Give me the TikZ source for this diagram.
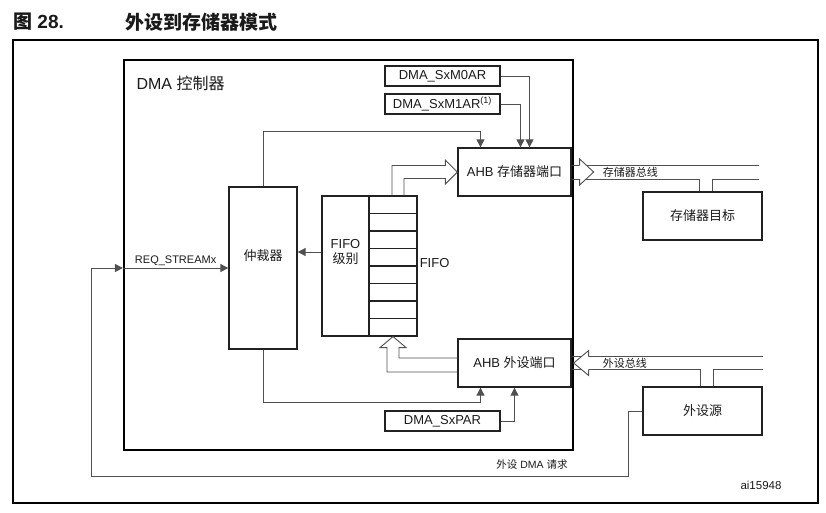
\documentclass[tikz,border=0pt]{standalone}
\usepackage{fontspec}
\setmainfont{Liberation Sans}
\newfontfamily\cjk{Noto Sans CJK SC}
\usetikzlibrary{arrows.meta,calc}

\definecolor{boxcol}{HTML}{222222}
\definecolor{linecol}{HTML}{505050}
\definecolor{txtcol}{HTML}{1A1A1A}

\tikzset{
	box/.style={draw=boxcol, line width=1.3pt, minimum width=113pt, minimum height=48pt},
	reg/.style={box, minimum width=115pt, minimum height=20pt, inner sep=0pt},
	cell/.style={draw=boxcol, line width=1.1pt, minimum width=48pt, minimum height=17.5pt, inner sep=0pt},
	conn/.style={draw=linecol, line width=0.9pt},
	arr/.style={conn, -{Triangle[length=8pt,width=8pt]}},
	fat/.style={draw=linecol, line width=0.9pt, line join=miter},
	lbl/.style={font=\fontsize{11}{13}\selectfont, inner sep=1pt}
}

\begin{document}
\begin{tikzpicture}[x=1pt, y=-1pt, text=txtcol, font=\fontsize{13}{15}\selectfont]
	\useasboundingbox (0,0) rectangle (826,512);
	\draw[line width=1.6pt] (13,40) rectangle (818,503);

	\node[anchor=west, inner sep=0pt, font=\fontsize{19}{21}\selectfont\bfseries] (fignum) at (13,22) {{\cjk 图} 28.};
	\node[anchor=west, inner sep=0pt, font=\fontsize{19}{21}\selectfont\bfseries] (figtitle) at (125,22) {\cjk 外设到存储器模式};

	\node[draw=black, line width=2.2pt, minimum width=449pt, minimum height=390pt] (dma) at (348.5,255) {};
	\node[anchor=west, font=\fontsize{16}{18}\selectfont] (dmatitle) at (133,83) {DMA {\cjk 控制器}};

	\node[reg] (m0ar) at (442.5,76) {DMA\_SxM0AR};
	\node[reg] (m1ar) at (442.5,104) {DMA\_SxM1AR\textsuperscript{(1)}};
	\node[box] (memport) at (514.5,172) {AHB {\cjk 存储器端口}};
	\node[box] (perport) at (514.5,363) {AHB {\cjk 外设端口}};
	\node[reg] (par) at (442.5,421) {DMA\_SxPAR};
	\node[box, minimum width=68pt, minimum height=162pt] (arbiter) at (263,268) {};
	\node (arbtext) at ($(arbiter.center)+(0,-12)$) {\cjk 仲裁器};
	\node[draw=boxcol, line width=1.3pt, minimum width=47pt, minimum height=140pt] (fifolvl) at (345.5,266) {};
	\foreach \i in {1,...,8}
		\node[cell] (c\i) at (393,187.25+17.5*\i) {};
	\draw[draw=boxcol, line width=1.3pt] (fifolvl.north west) rectangle (c8.south east);
	\node[anchor=west, inner sep=2pt] (fifotext) at ($(c4.south east)+(0,-4)$) {FIFO};
	\node[box, minimum width=119pt] (memtgt) at (702.5,216) {\cjk 存储器目标};
	\node[box, minimum width=119pt] (persrc) at (702.5,411) {\cjk 外设源};

	\coordinate (lvl) at ($(fifolvl.west)+(0,-14)$);
	\node[align=center, inner sep=0pt] (lvltext) at (fifolvl.center |- lvl) {FIFO\\{\cjk 级别}};
	\draw[arr] (lvl) -- (lvl -| arbiter.east);

	\draw[arr] (m0ar.east) -| ($(memport.north)+(15,0)$);
	\draw[arr] (m1ar.east) -| ($(memport.north)+(6,0)$);
	\draw[arr] (arbiter.north) |- ($(memport.north)+(-34,-16)$) -- ($(memport.north)+(-34,0)$);
	\draw[arr] (arbiter.south) |- ($(perport.south)+(-34,15)$) -- ($(perport.south)+(-34,0)$);
	\draw[arr] (par.east) -| (perport.south);

	\draw[fat] ($(c1.north)+(-1,0)$) |- ($(memport.west)+(-12,-6.5)$) -- ++(0,-5.5) -- (memport.west)
		-- ++(-12,12) -- ++(0,-5.5) -| ($(c1.north)+(11,0)$);
	\draw[fat] ($(perport.west)+(0,9)$) -| ($(c8.south)+(-6,11)$) -- ++(-7,0) -- (c8.south)
		-- ++(13,11) -- ++(-7,0) |- ($(perport.west)+(0,-5)$);

	\draw[conn] ($(memport.east)+(0,-7)$) -- ($(memport.east)+(187,-7)$);
	\draw[conn] ($(memport.east)+(0,7)$) -| ($(memtgt.north)+(-3,0)$);
	\draw[conn] ($(memtgt.north)+(10,0)$) |- ($(memport.east)+(187,7)$);
	\filldraw[fat, fill=white] ($(memport.east)+(8,-7)$) -- ++(0,-6) -- ++(14,13) -- ++(-14,13) -- ++(0,-6);
	\node[lbl, anchor=west] (mbustext) at ($(memport.east)+(30,0)$) {\cjk 存储器总线};

	\draw[conn] ($(perport.east)+(0,-6.5)$) -- ($(perport.east)+(191,-6.5)$);
	\draw[conn] ($(perport.east)+(0,6.5)$) -| ($(persrc.north)+(-2,0)$);
	\draw[conn] ($(persrc.north)+(11,0)$) |- ($(perport.east)+(191,6.5)$);
	\filldraw[fat, fill=white] ($(perport.east)+(17,-6.5)$) -- ++(0,-6) -- ($(perport.east)+(2,0)$)
		-- ++(15,12.5) -- ++(0,-6);
	\node[lbl, anchor=west] (pbustext) at ($(perport.east)+(30,0)$) {\cjk 外设总线};

	\coordinate (reqturn) at (628,476);
	\coordinate (reqleft) at (91,476);
	\draw[arr] (persrc.west) -| (reqturn) -- (reqleft) |- (dma.west |- arbiter.west);
	\draw[arr] (dma.west |- arbiter.west) -- node[above, inner sep=2pt, font=\fontsize{11}{13}\selectfont] (reqlbl) {REQ\_STREAMx} (arbiter.west);
	\node[font=\fontsize{10.5}{12}\selectfont] (reqtext) at (532,465) {{\cjk 外设} DMA {\cjk 请求}};

	\node[anchor=east, font=\fontsize{11.5}{13}\selectfont] (ainum) at (785,485) {ai15948};
\end{tikzpicture}
\end{document}
